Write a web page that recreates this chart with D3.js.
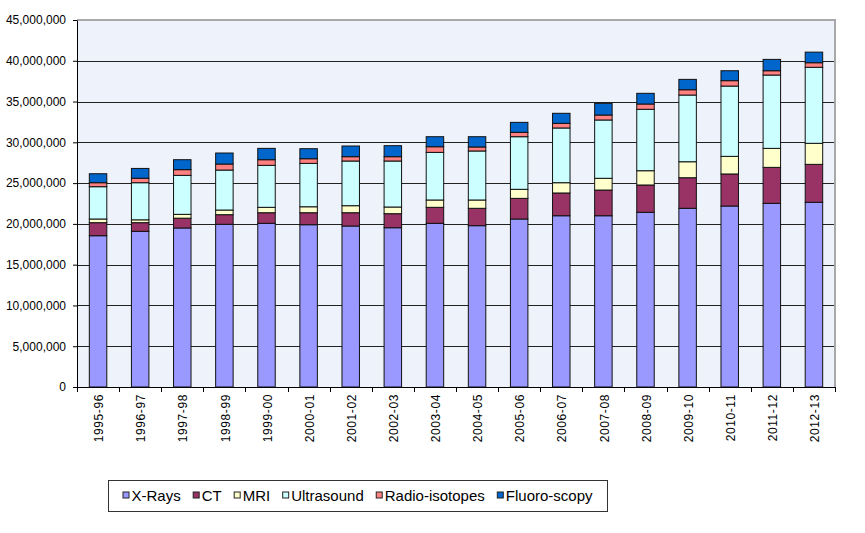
<!DOCTYPE html>
<html>
<head>
<meta charset="utf-8">
<script src="https://cdn.jsdelivr.net/npm/d3@7"></script>
<style>
  body { margin: 0; background: #fff; }
  svg { font-family: "Liberation Sans", Arial, sans-serif; }
</style>
</head>
<body>
<div id="chart"></div>
<script>
// Categories (financial years)
const years = ["1995-96", "1996-97", "1997-98", "1998-99", "1999-00", "2000-01", "2001-02",
  "2002-03", "2003-04", "2004-05", "2005-06", "2006-07", "2007-08", "2008-09",
  "2009-10", "2010-11", "2011-12", "2012-13"];

// Series values (number of services)
const xRays = [18550000, 19090000, 19500000, 19950000, 20070000, 19900000, 19740000, 19530000, 20070000,
  19780000, 20600000, 21000000, 21000000, 21420000, 21910000, 22190000, 22520000, 22650000];
const ct = [1600000, 1060000, 1200000, 1180000, 1300000, 1470000, 1630000, 1720000, 1960000,
  2130000, 2530000, 2790000, 3150000, 3350000, 3750000, 3930000, 4410000, 4650000];
const mri = [450000, 350000, 470000, 570000, 660000, 730000, 860000, 820000, 900000,
  1020000, 1110000, 1260000, 1440000, 1750000, 1960000, 2160000, 2330000, 2580000];
const ultrasound = [3960000, 4550000, 4780000, 4900000, 5150000, 5320000, 5480000, 5640000, 5840000,
  6010000, 6450000, 6710000, 7150000, 7530000, 8180000, 8620000, 8990000, 9320000];
const radioIsotopes = [490000, 550000, 700000, 740000, 690000, 570000, 530000, 530000, 690000,
  490000, 530000, 570000, 610000, 650000, 650000, 660000, 530000, 560000];
const fluoroscopy = [1100000, 1200000, 1220000, 1350000, 1390000, 1230000, 1310000, 1350000, 1230000,
  1260000, 1230000, 1230000, 1430000, 1310000, 1270000, 1220000, 1390000, 1300000];

const seriesNames = ["X-Rays", "CT", "MRI", "Ultrasound", "Radio-isotopes", "Fluoro-scopy"];
const seriesValues = [xRays, ct, mri, ultrasound, radioIsotopes, fluoroscopy];
const colors = ["#9999FF", "#993366", "#FFFFCC", "#CCFFFF", "#FF8080", "#0066CC"];

const yTicks = [0, 5000000, 10000000, 15000000, 20000000, 25000000, 30000000, 35000000, 40000000, 45000000];

const W = 865, H = 533;
const plot = { left: 77, top: 20, right: 835, bottom: 387 };

const svg = d3.select("#chart").append("svg")
  .attr("width", W)
  .attr("height", H);

// build rows for d3.stack
const rows = years.map((yr, i) => {
  const r = { year: yr };
  seriesNames.forEach((s, k) => { r[s] = seriesValues[k][i]; });
  return r;
});
const stacked = d3.stack().keys(seriesNames)(rows);

const p = 0.585;
const x = d3.scaleBand()
  .domain(years)
  .range([plot.left, plot.right])
  .paddingInner(p)
  .paddingOuter(p / 2);

const y = d3.scaleLinear()
  .domain([0, 45000000])
  .range([plot.bottom, plot.top]);

// plot background
svg.append("rect")
  .attr("x", plot.left)
  .attr("y", plot.top)
  .attr("width", plot.right - plot.left)
  .attr("height", plot.bottom - plot.top)
  .attr("fill", "#EEF2FA");

// gridlines
svg.append("g")
  .selectAll("line")
  .data(yTicks.filter(d => d > 0))
  .join("line")
  .attr("x1", plot.left)
  .attr("x2", plot.right)
  .attr("y1", d => Math.round(y(d)) + 0.5)
  .attr("y2", d => Math.round(y(d)) + 0.5)
  .attr("stroke", "#222")
  .attr("stroke-width", 1);

// frame top/right (grey)
svg.append("path")
  .attr("d", `M${plot.left},${plot.top} H${plot.right} V${plot.bottom}`)
  .attr("fill", "none")
  .attr("stroke", "#A8A8A8")
  .attr("stroke-width", 2);

// bars
svg.append("g")
  .selectAll("g")
  .data(stacked)
  .join("g")
  .attr("fill", (d, i) => colors[i])
  .selectAll("rect")
  .data(d => d)
  .join("rect")
  .attr("x", d => x(d.data.year))
  .attr("y", d => y(d[1]))
  .attr("width", x.bandwidth())
  .attr("height", d => y(d[0]) - y(d[1]))
  .attr("stroke", "#111")
  .attr("stroke-width", 1);

// y axis
const yAxis = svg.append("g")
  .attr("transform", `translate(${plot.left},0)`)
  .call(d3.axisLeft(y).tickValues(yTicks).tickFormat(d3.format(",")).tickSize(4).tickSizeOuter(0));
yAxis.select(".domain").attr("stroke", "#000");
yAxis.selectAll(".tick line").attr("stroke", "#000");
yAxis.selectAll("text")
  .attr("x", -11)
  .attr("fill", "#000")
  .style("font-size", "12px")
  .style("font-family", "'Liberation Sans', Arial, sans-serif");

// x axis: ticks at category boundaries
const step = x.step();
const boundaries = d3.range(years.length + 1).map(i => plot.left + i * step);
svg.append("line")
  .attr("x1", plot.left).attr("x2", plot.right)
  .attr("y1", plot.bottom + 0.5).attr("y2", plot.bottom + 0.5)
  .attr("stroke", "#000");
svg.append("g")
  .selectAll("line")
  .data(boundaries)
  .join("line")
  .attr("x1", d => Math.round(d) + 0.5)
  .attr("x2", d => Math.round(d) + 0.5)
  .attr("y1", plot.bottom)
  .attr("y2", plot.bottom + 5)
  .attr("stroke", "#000");

svg.append("g")
  .selectAll("text")
  .data(years)
  .join("text")
  .attr("transform", d => `translate(${x(d) + x.bandwidth() / 2 + 1},${plot.bottom + 7}) rotate(-90)`)
  .attr("text-anchor", "end")
  .attr("dy", "0.35em")
  .style("font-size", "12px")
  .style("letter-spacing", "0.6px")
  .attr("fill", "#000")
  .text(d => d);

// legend
const legendBox = { x: 108, y: 480, w: 499, h: 31 };
svg.append("rect")
  .attr("x", legendBox.x + 0.5)
  .attr("y", legendBox.y + 0.5)
  .attr("width", legendBox.w)
  .attr("height", legendBox.h)
  .attr("fill", "#fff")
  .attr("stroke", "#333");

const legend = svg.append("g");
const gap = 12;
let cursor = 0;
seriesNames.forEach((name, i) => {
  const item = legend.append("g").attr("transform", `translate(${cursor},0)`);
  item.append("rect")
    .attr("x", 0.5).attr("y", -3.5)
    .attr("width", 6).attr("height", 6)
    .attr("fill", colors[i])
    .attr("stroke", "#222");
  const t = item.append("text")
    .attr("x", 9)
    .attr("y", 0)
    .attr("dy", "0.35em")
    .style("font-size", "15px")
    .attr("fill", "#000")
    .text(name);
  cursor += 9 + t.node().getComputedTextLength() + gap;
});
const legendWidth = cursor - gap;
legend.attr("transform",
  `translate(${legendBox.x + (legendBox.w - legendWidth) / 2},${legendBox.y + legendBox.h / 2})`);
</script>
</body>
</html>
